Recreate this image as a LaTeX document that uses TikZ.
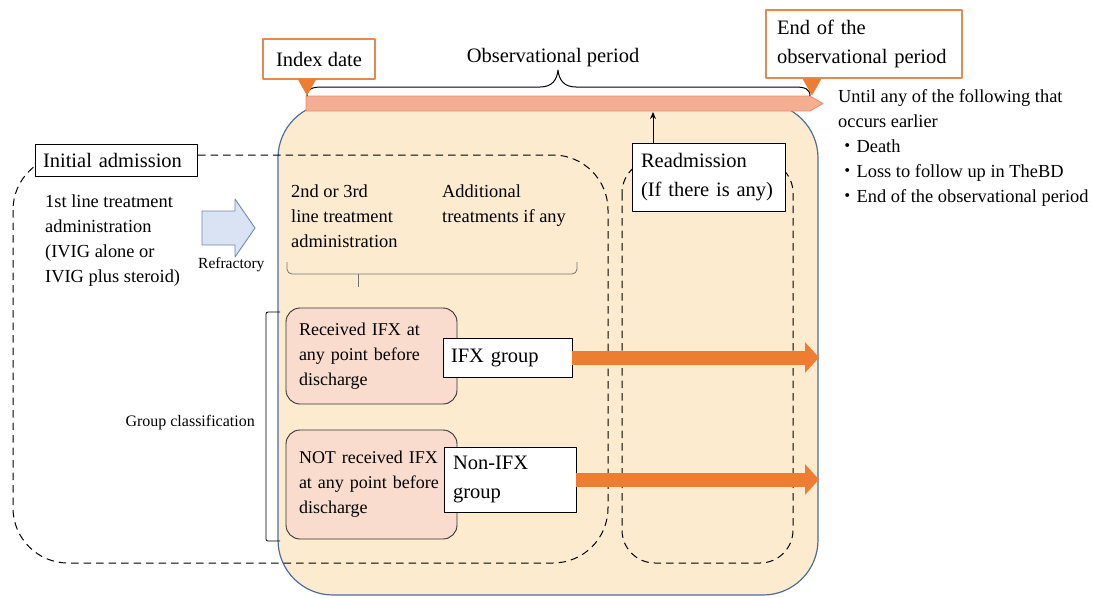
\documentclass[tikz,border=0pt]{standalone}
\usepackage{fontspec}
\setmainfont{Liberation Serif}
\newfontfamily\cjk{Noto Sans CJK JP}
\usetikzlibrary{arrows.meta}
\definecolor{peach}{HTML}{FDEBD0}
\definecolor{boxblue}{HTML}{4E6D9A}
\definecolor{orangeC}{HTML}{ED7D31}
\definecolor{orangeB}{HTML}{E58A4E}
\definecolor{barfill}{HTML}{F4AE92}
\definecolor{barline}{HTML}{EF8B62}
\definecolor{pinkfill}{HTML}{F9DCCD}
\definecolor{bluefill}{HTML}{DAE3F3}
\definecolor{blueline}{HTML}{7089B2}
\newcommand\fLab{\fontsize{20.5}{28.5}\selectfont}
\newcommand\fBody{\fontsize{18.4}{25}\selectfont}
\newcommand\fPink{\fontsize{18}{25}\selectfont}
\newcommand\fSmall{\fontsize{15.5}{18}\selectfont}
\newcommand\fGrp{\fontsize{16}{18}\selectfont}
\begin{document}
\begin{tikzpicture}[x=1pt,y=-1pt,line join=round,
  txt/.style={inner sep=0pt, anchor=north west, align=left, font=\fBody},
  orangebox/.style={draw=orangeB, line width=1.4pt, fill=white, font=\fLab, inner sep=0pt},
  whitebox/.style={draw=black, line width=0.9pt, fill=white, font=\fLab, inner sep=0pt, align=left},
  pinkbox/.style={draw=black!80, line width=0.9pt, fill=pinkfill, rounded corners=14pt, font=\fPink, align=left, inner sep=0pt},
  dashedbox/.style={dash pattern=on 7.5pt off 5pt, line width=1pt},
  tri/.style={fill=orangeC, draw=orangeC, line width=0.5pt},
  bigarrow/.style={line width=14pt, draw=orangeC, -{Triangle[length=14pt,width=30pt]}}
]
\useasboundingbox (0,0) rectangle (1094,597);

% big observation box
\draw[fill=peach, draw=boxblue, line width=1.2pt, rounded corners=55pt] (278,103) rectangle (818,595);

% dashed regions
\draw[dashedbox, rounded corners=55pt] (13,155) rectangle (608,563);
\draw[dashedbox, rounded corners=33pt] (622,160) rectangle (793,563);

% top bar
\draw[fill=barfill, draw=barline, line width=0.8pt] (306,96) -- (810,96) -- (823,103.5) -- (810,111) -- (306,111) -- cycle;
\coordinate (barbot) at (653,112);

% brace over bar
\draw[line width=1pt] (307,96) .. controls (307,89) and (312,87) .. (322,87) -- (540,87)
  .. controls (552,87) and (557,80) .. (558,70)
  .. controls (559,80) and (564,87) .. (576,87) -- (795,87)
  .. controls (805,87) and (810,89) .. (810,96);

% orange label boxes and pointers
\node[orangebox, minimum width=112pt, minimum height=40pt] (index) at (319,59) {Index date};
\node[orangebox, minimum width=196pt, minimum height=68pt, align=left, text width=174pt] (endbox) at (864,44) {End of the\\observational period};
\draw[tri] (298,79) -- (316,79) -- (307,95) -- cycle;
\draw[tri] (803,79) -- (821,79) -- (812,95) -- cycle;

\node[inner sep=0pt, anchor=base, font=\fLab] (obs) at (553,62) {Observational period};

\node[txt] (until) at (838,89) {Until any of the following that\\occurs earlier\\{\cjk ・}Death\\{\cjk ・}Loss to follow up in TheBD\\{\cjk ・}End of the observational period};

% readmission
\node[whitebox, minimum width=153pt, minimum height=68pt, text width=135pt] (readm) at (708.5,177) {Readmission\\(If there is any)};
\draw[line width=1pt, -{Stealth[length=7pt,width=6pt]}] (readm.north -| barbot) -- (barbot);

% initial admission
\node[whitebox, minimum width=162pt, minimum height=32pt, text width=146pt] (init) at (116,160) {Initial admission};
\node[txt] (first) at (45,195) {1st line treatment\\administration\\(IVIG alone or\\IVIG plus steroid)};

% blue block arrow
\draw[fill=bluefill, draw=blueline, line width=0.9pt] (202,211) -- (235,211) -- (235,199) -- (255,228) -- (235,257) -- (235,245) -- (202,245) -- cycle;
\node[txt, font=\fSmall] (refr) at (198,257) {Refractory};

% second line treatments
\node[txt] (second) at (291,185) {2nd or 3rd\\line treatment\\administration};
\node[txt] (addl) at (442,185) {Additional\\treatments if any};
\draw[black!55, line width=0.8pt, rounded corners=5pt] (287,262) -- (287,274) -- (577,274) -- (577,262);
\draw[black!55, line width=0.8pt] (358,274) -- (358,287);

% group classification
\draw[line width=0.8pt, rounded corners=2pt] (280,312) -- (266,312) -- (266,541) -- (280,541);
\node[txt, font=\fGrp, anchor=north east] (grp) at (255,415) {Group classification};

\node[pinkbox, minimum width=171pt, minimum height=96pt, text width=145pt] (recv) at (371.5,356) {Received IFX at\\any point before\\discharge};
\node[pinkbox, minimum width=171pt, minimum height=109pt, text width=145pt] (notrecv) at (371.5,484.5) {NOT received IFX\\at any point before\\discharge};

\node[whitebox, minimum width=129pt, minimum height=39pt, text width=113pt] (ifx) at (507.5,357.5) {IFX group};
\node[whitebox, minimum width=132pt, minimum height=65pt, text width=114pt] (nonifx) at (510,479.5) {Non-IFX\\group};

\coordinate (ifxend) at (819,357.5);
\coordinate (nonend) at (819,479.5);
\draw[bigarrow] (ifx.east) -- (ifxend);
\draw[bigarrow] (nonifx.east) -- (nonend);
\end{tikzpicture}
\end{document}
